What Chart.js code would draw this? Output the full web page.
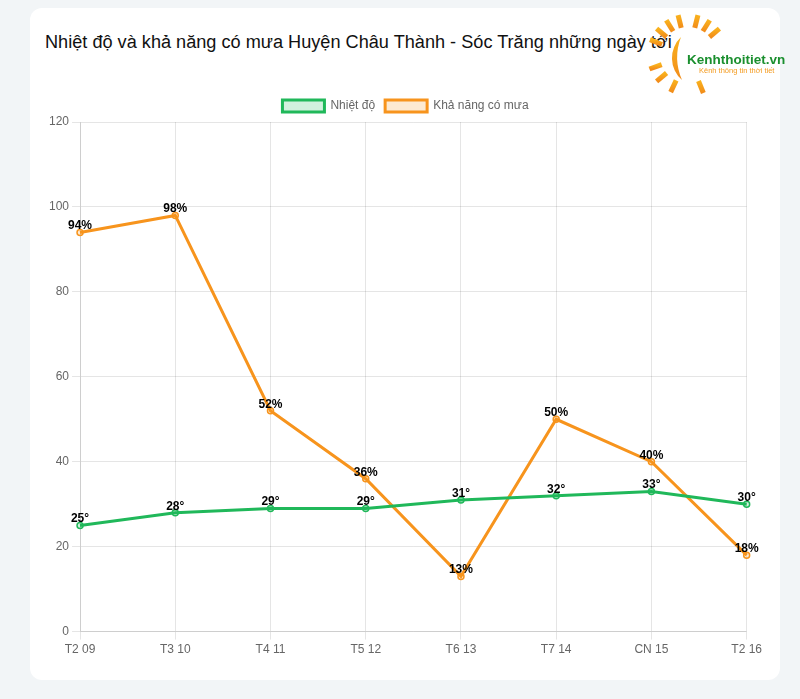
<!DOCTYPE html>
<html>
<head>
<meta charset="utf-8">
<script src="https://cdn.jsdelivr.net/npm/chart.js@4.4.0/dist/chart.umd.min.js"></script>
<style>
  body { margin: 0; background: #f2f5f7; width: 800px; height: 699px; overflow: hidden; font-family: "Liberation Sans", Arial, sans-serif; }
  .card { position: absolute; left: 30px; top: 8px; width: 750px; height: 672px; background: #fff; border-radius: 12px; }
  .title { position: absolute; left: 15px; top: 24px; font-size: 18.15px; color: #111; white-space: nowrap; }
  .chart-box { position: absolute; left: 15px; top: 82px; width: 720px; height: 578px; }
  .logo { position: absolute; left: 610px; top: 0; }
</style>
</head>
<body>
<div class="card">
  <div class="title">Nhiệt độ và khả năng có mưa Huyện Châu Thành - Sóc Trăng những ngày tới</div>
  <div class="chart-box"><canvas id="myChart"></canvas></div>
  <svg class="logo" width="150" height="100" viewBox="0 0 150 100">
    <defs>
      <linearGradient id="sun" x1="0" y1="0" x2="0" y2="1">
        <stop offset="0" stop-color="#f9b21d"/>
        <stop offset="1" stop-color="#f28c1a"/>
      </linearGradient>
    </defs>
    <g id="rays" stroke="url(#sun)" stroke-width="5"></g>
    <path d="M 41 29 A 29 29 0 0 0 42 72 A 57 57 0 0 1 41 29 Z" fill="url(#sun)"/>
    <text x="47" y="56" font-family="Liberation Sans, Arial" font-weight="bold" font-size="13.5" fill="#1a8f2e">Kenhthoitiet.vn</text>
    <text x="59" y="65" font-family="Liberation Sans, Arial" font-size="7.5" fill="#f39a1e">Kênh thông tin thời tiết</text>
  </svg>
</div>
<script>
// sun rays of the logo
var rays = document.getElementById('rays');
[-40, -58, -76, -90, -104, -122, -140, -158, 180, 160, 140, 115, 90, 68].forEach(function (a) {
    var r = a * Math.PI / 180, cx = 48, cy = 47;
    var l = document.createElementNS('http://www.w3.org/2000/svg', 'line');
    l.setAttribute('x1', cx + 28 * Math.cos(r)); l.setAttribute('y1', cy + 28 * Math.sin(r));
    l.setAttribute('x2', cx + 41 * Math.cos(r)); l.setAttribute('y2', cy + 41 * Math.sin(r));
    rays.appendChild(l);
});

// ----------------------------- DATA -----------------------------
var days = ['T2 09', 'T3 10', 'T4 11', 'T5 12', 'T6 13', 'T7 14', 'CN 15', 'T2 16'];
var temps = [25, 28, 29, 29, 31, 32, 33, 30];
var rain = [94, 98, 52, 36, 13, 50, 40, 18];

// draws the value above every point
var valueLabels = {
    id: 'valueLabels',
    afterDatasetsDraw: function (chart) {
        var ctx = chart.ctx;
        ctx.save();
        ctx.font = 'bold 12px "Liberation Sans", Arial, sans-serif';
        ctx.fillStyle = '#000';
        ctx.textAlign = 'center';
        ctx.textBaseline = 'alphabetic';
        chart.data.datasets.forEach(function (ds, i) {
            chart.getDatasetMeta(i).data.forEach(function (pt, j) {
                ctx.fillText(ds.data[j] + ds.suffix, pt.x, pt.y - 3);
            });
        });
        ctx.restore();
    }
};

Chart.defaults.font.family = '"Liberation Sans", Arial, sans-serif';
Chart.defaults.font.size = 12;
Chart.defaults.color = '#666';

new Chart(document.getElementById('myChart'), {
    type: 'line',
    data: {
        labels: days,
        datasets: [{
            label: 'Nhiệt độ',
            data: temps,
            suffix: '°',
            borderColor: '#20b85a',
            backgroundColor: 'rgba(32,185,90,0.2)',
            borderWidth: 3,
            pointRadius: 3,
            pointBorderWidth: 1.5,
            tension: 0
        }, {
            label: 'Khả năng có mưa',
            data: rain,
            suffix: '%',
            borderColor: '#f7941d',
            backgroundColor: 'rgba(247,148,29,0.2)',
            borderWidth: 3,
            pointRadius: 3,
            pointBorderWidth: 1.5,
            tension: 0
        }]
    },
    options: {
        responsive: true,
        maintainAspectRatio: false,
        animation: false,
        layout: { padding: { left: 1, right: 0, top: 0, bottom: 8 } },
        plugins: {
            legend: { display: true, position: 'top', labels: { boxWidth: 42, boxHeight: 12 } },
            tooltip: { enabled: false }
        },
        scales: {
            y: { min: 0, max: 120, ticks: { stepSize: 20 } },
            x: {}
        }
    },
    plugins: [valueLabels]
});
</script>
</body>
</html>
